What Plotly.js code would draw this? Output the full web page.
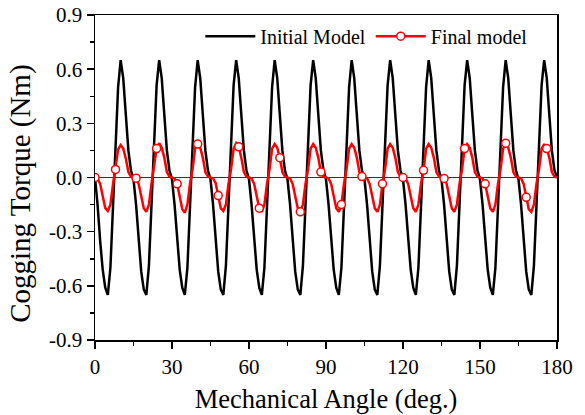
<!DOCTYPE html>
<html>
<head>
<meta charset="utf-8">
<script src="https://cdn.plot.ly/plotly-3.0.1.min.js"></script>
<style>html,body{margin:0;padding:0;background:#fff;}#chart{width:585px;height:415px;}</style>
</head>
<body>
<div id="chart"></div>
<script>
// Mechanical angle (deg.), 1 degree steps
var angle = [0,1,2,3,4,5,6,7,8,9,10,11,12,13,14,15,16,17,18,19,20,21,22,23,24,25,26,27,28,29,
30,31,32,33,34,35,36,37,38,39,40,41,42,43,44,45,46,47,48,49,50,51,52,53,54,55,56,57,58,59,
60,61,62,63,64,65,66,67,68,69,70,71,72,73,74,75,76,77,78,79,80,81,82,83,84,85,86,87,88,89,
90,91,92,93,94,95,96,97,98,99,100,101,102,103,104,105,106,107,108,109,110,111,112,113,114,115,116,117,118,119,
120,121,122,123,124,125,126,127,128,129,130,131,132,133,134,135,136,137,138,139,140,141,142,143,144,145,146,147,148,149,
150,151,152,153,154,155,156,157,158,159,160,161,162,163,164,165,166,167,168,169,170,171,172,173,174,175,176,177,178,179,180];

// Initial model cogging torque (Nm)
var initialModel = [
0.00,-0.15,-0.35,-0.51,-0.61,-0.65,-0.50,-0.18,0.18,0.50,0.65,0.55,0.35,0.15,0.04,
-0.01,-0.15,-0.35,-0.52,-0.62,-0.65,-0.49,-0.17,0.19,0.51,0.65,0.55,0.35,0.15,0.04,
-0.01,-0.15,-0.35,-0.51,-0.61,-0.65,-0.50,-0.18,0.18,0.50,0.65,0.55,0.35,0.15,0.04,
-0.01,-0.15,-0.35,-0.52,-0.62,-0.65,-0.49,-0.17,0.19,0.51,0.65,0.55,0.35,0.15,0.04,
-0.01,-0.15,-0.35,-0.51,-0.61,-0.65,-0.50,-0.18,0.18,0.50,0.65,0.55,0.35,0.15,0.04,
-0.01,-0.15,-0.35,-0.52,-0.62,-0.65,-0.49,-0.17,0.19,0.51,0.65,0.55,0.35,0.15,0.04,
-0.01,-0.15,-0.35,-0.51,-0.61,-0.65,-0.50,-0.18,0.18,0.50,0.65,0.55,0.35,0.15,0.04,
-0.01,-0.15,-0.35,-0.52,-0.62,-0.65,-0.49,-0.17,0.19,0.51,0.65,0.55,0.35,0.15,0.04,
-0.01,-0.15,-0.35,-0.51,-0.61,-0.65,-0.50,-0.18,0.18,0.50,0.65,0.55,0.35,0.15,0.04,
-0.01,-0.15,-0.35,-0.52,-0.62,-0.65,-0.49,-0.17,0.19,0.51,0.65,0.55,0.35,0.15,0.04,
-0.01,-0.15,-0.35,-0.51,-0.61,-0.65,-0.50,-0.18,0.18,0.50,0.65,0.55,0.35,0.15,0.04,
-0.01,-0.15,-0.35,-0.52,-0.62,-0.65,-0.49,-0.17,0.19,0.51,0.65,0.55,0.35,0.15,0.04,
0.00];

// Final model cogging torque (Nm)
var finalModel = [
0.000,-0.005,-0.035,-0.105,-0.170,-0.185,-0.150,-0.040,0.045,0.155,0.180,0.160,0.105,0.030,0.005,
0.000,-0.004,-0.035,-0.105,-0.170,-0.190,-0.150,-0.035,0.050,0.160,0.190,0.165,0.110,0.030,0.005,
0.000,-0.005,-0.035,-0.105,-0.175,-0.195,-0.150,-0.035,0.045,0.160,0.185,0.165,0.110,0.030,0.005,
0.000,-0.005,-0.030,-0.100,-0.170,-0.185,-0.150,-0.035,0.045,0.160,0.190,0.170,0.110,0.030,0.005,
0.000,-0.005,-0.035,-0.105,-0.170,-0.190,-0.150,-0.035,0.045,0.160,0.185,0.165,0.110,0.030,0.005,
0.000,-0.005,-0.035,-0.105,-0.170,-0.190,-0.150,-0.035,0.045,0.160,0.185,0.165,0.110,0.030,0.005,
0.000,-0.005,-0.035,-0.105,-0.170,-0.190,-0.150,-0.035,0.045,0.160,0.185,0.165,0.110,0.030,0.005,
0.000,-0.005,-0.035,-0.105,-0.170,-0.190,-0.150,-0.035,0.045,0.160,0.185,0.165,0.110,0.030,0.005,
0.000,-0.005,-0.035,-0.105,-0.170,-0.190,-0.150,-0.035,0.040,0.160,0.185,0.165,0.110,0.030,0.005,
0.000,-0.005,-0.035,-0.105,-0.170,-0.190,-0.150,-0.035,0.045,0.160,0.185,0.165,0.110,0.030,0.005,
0.000,-0.005,-0.035,-0.105,-0.170,-0.190,-0.150,-0.035,0.045,0.160,0.190,0.165,0.110,0.030,0.005,
0.000,-0.005,-0.035,-0.110,-0.175,-0.190,-0.150,-0.035,0.045,0.160,0.185,0.160,0.110,0.030,0.005,
0.000];

var markerEvery = 8;
var xTickVals = [0,30,60,90,120,150,180];
var xTickText = ['0','30','60','90','120','150','180'];
var yTickVals = [-0.9,-0.6,-0.3,0.0,0.3,0.6,0.9];
var yTickText = ['-0.9','-0.6','-0.3','0.0','0.3','0.6','0.9'];
var xTitle = 'Mechanical Angle (deg.)';
var yTitle = 'Cogging Torque (Nm)';

var markerY = finalModel.map(function(v, i){ return i % markerEvery === 0 ? v : null; });

var FONT = '"Liberation Serif", "Times New Roman", serif';

var traces = [
  {x: angle, y: initialModel, type: 'scatter', mode: 'lines', name: 'Initial Model',
   line: {color: '#000000', width: 2.5}},
  {x: angle, y: finalModel, type: 'scatter', mode: 'lines', name: 'Final model', showlegend: false,
   line: {color: '#ff0000', width: 2.5}},
  {x: angle, y: markerY, type: 'scatter', mode: 'lines+markers', name: 'Final model',
   connectgaps: false,
   line: {color: '#ff0000', width: 2.5},
   marker: {symbol: 'circle', size: 8, color: '#ffffff', line: {color: '#ff0000', width: 1.5}}}
];

var layout = {
  width: 585, height: 415,
  margin: {l: 95, r: 28, t: 15, b: 75, pad: 0},
  paper_bgcolor: '#ffffff', plot_bgcolor: '#ffffff',
  font: {family: FONT, color: '#000000', size: 20},
  showlegend: true,
  legend: {orientation: 'h', x: 0.228, y: 0.995, xanchor: 'left', yanchor: 'top',
           bgcolor: 'rgba(0,0,0,0)', font: {family: FONT, size: 20, color: '#000'},
           itemwidth: 50, tracegroupgap: 0},
  xaxis: {
    range: [0, 180], tickmode: 'array', tickvals: xTickVals, ticktext: xTickText,
    ticks: 'outside', ticklen: 7, tickwidth: 1.5, tickcolor: '#000',
    showline: true, linecolor: '#000', linewidth: 1.5, mirror: true,
    showgrid: false, zeroline: false,
    minor: {tickmode: 'linear', tick0: 0, dtick: 15, ticks: 'outside', ticklen: 4, tickwidth: 1.5, tickcolor: '#000', showgrid: false},
    tickfont: {family: FONT, size: 21, color: '#000'},
    title: {text: xTitle, font: {family: FONT, size: 26.5, color: '#000'}, standoff: 11}
  },
  yaxis: {
    range: [-0.9, 0.9], tickmode: 'array', tickvals: yTickVals, ticktext: yTickText,
    ticks: 'outside', ticklen: 7, tickwidth: 1.5, tickcolor: '#000',
    showline: true, linecolor: '#000', linewidth: 1.5, mirror: true,
    showgrid: false, zeroline: true, zerolinecolor: '#333333', zerolinewidth: 1.5,
    minor: {tickmode: 'linear', tick0: 0, dtick: 0.15, ticks: 'outside', ticklen: 4, tickwidth: 1.5, tickcolor: '#000', showgrid: false},
    tickfont: {family: FONT, size: 21, color: '#000'}
  },
  annotations: [
    {text: yTitle, xref: 'paper', yref: 'paper', x: -0.16, y: 0.45,
     xanchor: 'center', yanchor: 'middle', textangle: -90, showarrow: false,
     font: {family: FONT, size: 29, color: '#000'}}
  ]
};

Plotly.newPlot('chart', traces, layout, {displayModeBar: false, staticPlot: true});
</script>
</body>
</html>
